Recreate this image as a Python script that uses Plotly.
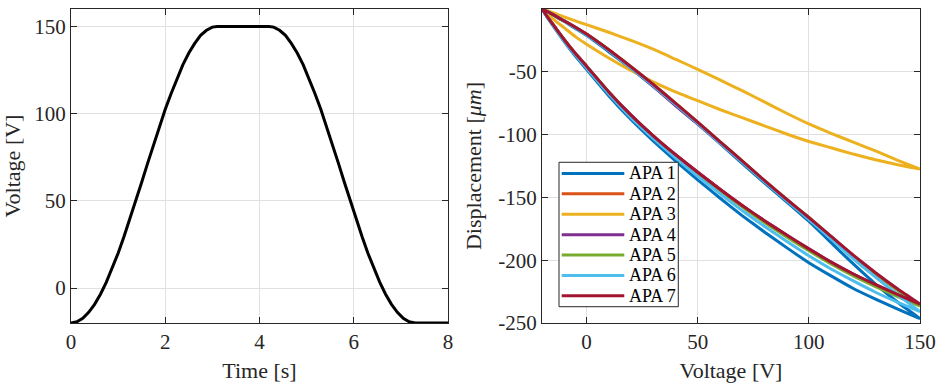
import plotly.graph_objects as go
from plotly.subplots import make_subplots

# ---------------- data: left panel (voltage vs time) ----------------
TIME_S = [0, 0.125, 0.25, 0.375, 0.5, 0.625, 0.75, 0.875, 1.0, 1.125, 1.25, 1.375, 1.5, 1.625,
          1.75, 1.875, 2.0, 2.125, 2.25, 2.375, 2.5, 2.625, 2.75, 2.875, 3.0, 3.1,
          4.2, 4.3, 4.425, 4.55, 4.675, 4.8, 4.925, 5.05, 5.175, 5.3, 5.425, 5.55, 5.675,
          5.8, 5.925, 6.05, 6.175, 6.3, 6.425, 6.55, 6.675, 6.8, 6.925, 7.05, 7.175, 7.3, 8.0]
VOLTAGE_V = [-20, -19.3, -17.3, -13.9, -9.3, -3.5, 3.4, 11.3, 20.0, 29.6, 39.6, 50.0, 60.7, 71.5,
             82.1, 92.5, 102.5, 111.6, 120.3, 128.1, 134.8, 140.3, 144.9, 147.8, 149.6, 150,
             150, 149.6, 147.8, 144.9, 140.3, 134.8, 128.1, 120.3, 111.6, 102.5, 92.5, 82.1, 71.5,
             60.7, 50.0, 39.6, 29.6, 20.0, 11.3, 3.4, -3.5, -9.3, -13.9, -17.3, -19.3, -20, -20]

# ---------------- data: right panel (hysteresis loops) ----------------
HYST_V = [-20, -15, -10, -5, 0, 10, 20, 30, 40, 50, 60, 70, 80, 90, 100, 110, 120, 130, 140, 150]

APA1_LO = [0, -13.5, -26, -37.5, -48, -69, -88, -105, -121, -136, -150.5, -164.5, -177.5, -190, -202, -212.5, -222.5, -231, -239, -246.5]
APA1_HI = [0, -5, -10, -15.5, -21, -34, -47.5, -61.5, -76.5, -91.5, -107, -123, -138.5, -153.5, -169, -186, -203, -219, -233.5, -246.5]
APA2_LO = [0, -12.5, -24.5, -35.5, -45.5, -66, -84.5, -101, -116, -130, -143.5, -156.5, -169, -180.5, -191.5, -202, -211.5, -220, -228.5, -236]
APA2_HI = [0, -4.5, -9.5, -14.5, -20, -32.5, -46.5, -60.5, -75.5, -90.5, -106, -121.5, -137, -152, -167, -182, -197, -211, -224, -236]
APA3_LO = [0, -8, -15, -22, -28, -39, -49, -58, -66, -73, -80, -86.5, -93, -99.5, -105.5, -110.5, -115.5, -120, -124, -127.5]
APA3_HI = [0, -3, -6.3, -9.5, -12.5, -18.5, -25, -32, -40, -48, -56.5, -65, -74, -83, -91.5, -99, -106, -113, -120.5, -127.5]
APA4_LO = [0, -12.5, -24.5, -35.5, -45.5, -66, -84.5, -101, -116, -130, -143.5, -156.5, -168.5, -180, -191, -201.5, -211, -219.5, -227.5, -235.5]
APA4_HI = [0, -4.5, -9.5, -14.5, -20, -33, -47, -61.5, -77, -91.5, -106.5, -122, -137, -152, -166.5, -181.5, -196.5, -210.5, -223.5, -235.5]
APA5_LO = [0, -12.5, -24.5, -35.5, -45.5, -66, -85, -101.5, -117, -131, -144.5, -157.5, -170, -181.5, -192.5, -203, -212.5, -221, -229, -236.5]
APA5_HI = [0, -4.5, -9.5, -14.5, -20, -32.5, -46, -60, -75, -90, -105.5, -121, -136.5, -151.5, -166, -181, -196.5, -210.5, -224, -236.5]
APA6_LO = [0, -13, -25.5, -36.5, -47, -67.5, -86.5, -103, -118.5, -133, -147, -160.5, -173, -185, -196.5, -207, -216.5, -225.5, -233.5, -241]
APA6_HI = [0, -4.5, -9.5, -15, -20.5, -33, -47, -61, -76, -91, -106.5, -122, -137.5, -152.5, -167.5, -183, -199, -213.5, -227.5, -241]
APA7_LO = [0, -12.5, -24.5, -35.5, -45.5, -66, -84.5, -101, -116, -130, -143.5, -156.5, -168.5, -180, -191, -201.5, -211, -219.5, -227.5, -235]
APA7_HI = [0, -4.5, -9.5, -14.5, -20, -32.5, -46, -60, -75, -90, -105.5, -121, -136.5, -151.5, -166, -181, -196, -210, -223, -235]

APA_NAMES = ["APA 1", "APA 2", "APA 3", "APA 4", "APA 5", "APA 6", "APA 7"]
APA_LO = [APA1_LO, APA2_LO, APA3_LO, APA4_LO, APA5_LO, APA6_LO, APA7_LO]
APA_HI = [APA1_HI, APA2_HI, APA3_HI, APA4_HI, APA5_HI, APA6_HI, APA7_HI]
COLORS = ["#0072BD", "#D95319", "#EDB120", "#7E2F8E", "#77AC30", "#4DBEEE", "#A2142F"]

# tick labels
LEFT_X_TICKS = [0, 2, 4, 6, 8]
LEFT_Y_TICKS = [0, 50, 100, 150]
RIGHT_X_TICKS = [0, 50, 100, 150]
RIGHT_Y_TICKS = [-250, -200, -150, -100, -50, 0]
RIGHT_Y_TEXT = ["-250", "-200", "-150", "-100", "-50", "0"]

FONT = "Liberation Serif"
AX = "#262626"
GRID = "#e0e0e0"

fig = make_subplots(rows=1, cols=2, horizontal_spacing=0.1107)

fig.add_trace(go.Scatter(x=TIME_S, y=VOLTAGE_V, mode="lines", cliponaxis=False,
                         line=dict(color="black", width=3),
                         showlegend=False), row=1, col=1)

for name, lo, hi, col in zip(APA_NAMES, APA_LO, APA_HI, COLORS):
    xs = HYST_V + HYST_V[::-1]
    ys = lo + hi[::-1]
    fig.add_trace(go.Scatter(x=xs, y=ys, mode="lines", name=name, cliponaxis=False,
                             line=dict(color=col, width=3, shape="spline", smoothing=0.4),
                             showlegend=False),
                  row=1, col=2)

axis_common = dict(showline=True, linecolor=AX, linewidth=1, mirror="ticks",
                   ticks="inside", ticklen=6, tickwidth=1, tickcolor=AX,
                   showgrid=True, gridcolor=GRID, gridwidth=1, zeroline=False,
                   automargin=False,
                   tickfont=dict(family=FONT, size=21, color=AX),
                   title_font=dict(family=FONT, size=22, color=AX))

fig.update_xaxes(axis_common)
fig.update_yaxes(axis_common)

fig.update_xaxes(range=[0, 8], tickvals=LEFT_X_TICKS, title_text="Time [s]",
                 title_standoff=9, row=1, col=1)
fig.update_yaxes(range=[-20, 160], tickvals=LEFT_Y_TICKS, title_text="Voltage [V]",
                 title_standoff=15, row=1, col=1)
fig.update_xaxes(range=[-20, 150], tickvals=RIGHT_X_TICKS, title_text="Voltage [V]",
                 title_standoff=9, row=1, col=2)
fig.update_yaxes(range=[-250, 0], tickvals=RIGHT_Y_TICKS, ticktext=RIGHT_Y_TEXT,
                 title_text="Displacement [<i>μm</i>]", title_standoff=10, row=1, col=2)

fig.update_layout(xaxis=dict(domain=[0, 0.4441]), xaxis2=dict(domain=[0.5548, 1.0]))

# manual legend (MATLAB style box)
LEG_X0, LEG_X1 = 0.5748, 0.7153
LEG_Y0, LEG_Y1 = 0.0519, 0.5118
ROW_TOP = 0.4764
ROW_STEP = 0.065
shapes = [dict(type="rect", xref="paper", yref="paper", x0=LEG_X0, x1=LEG_X1, y0=LEG_Y0, y1=LEG_Y1,
               line=dict(color=AX, width=1), fillcolor="white", layer="above")]
annotations = []
for i, (name, col) in enumerate(zip(APA_NAMES, COLORS)):
    yy = ROW_TOP - i * ROW_STEP
    shapes.append(dict(type="line", xref="paper", yref="paper", x0=0.5780, x1=0.6517, y0=yy, y1=yy,
                       line=dict(color=col, width=3), layer="above"))
    annotations.append(dict(xref="paper", yref="paper", x=0.6545, y=yy, text=name, showarrow=False,
                            xanchor="left", yanchor="middle",
                            font=dict(family=FONT, size=18, color="black")))

fig.update_layout(width=938, height=386, margin=dict(l=71, r=18, t=9, b=63),
                  paper_bgcolor="white", plot_bgcolor="white",
                  shapes=shapes, annotations=annotations, showlegend=False)

# remove the default 8px page margin and any scrollbars so the figure fills the window exactly
PAGE_CSS_JS = ("document.documentElement.style.margin='0';document.body.style.margin='0';"
               "document.documentElement.style.overflow='hidden';document.body.style.overflow='hidden';")
fig.write_html("out.html", post_script=PAGE_CSS_JS, config={"displayModeBar": False})
